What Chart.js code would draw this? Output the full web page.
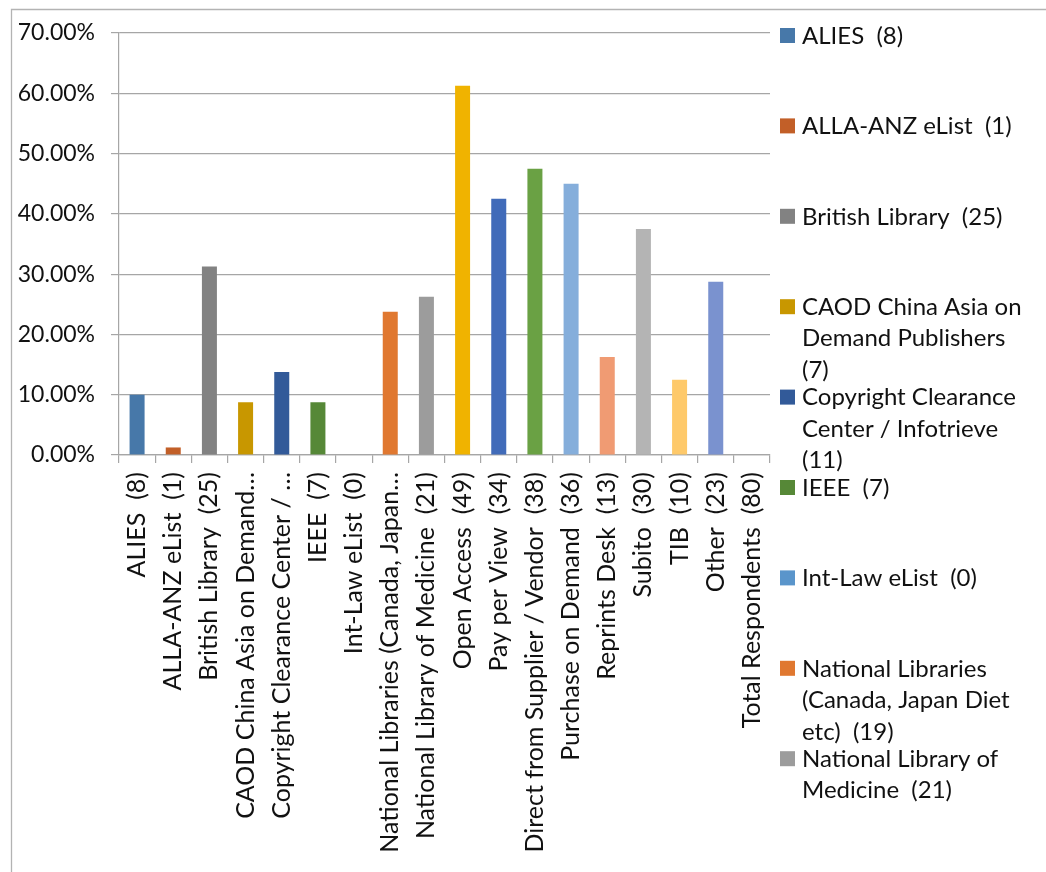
<!DOCTYPE html>
<html><head><meta charset="utf-8">
<script src="https://cdn.jsdelivr.net/npm/chart.js@4.4.1/dist/chart.umd.min.js"></script>
<style>html,body{margin:0;padding:0;background:#fff;overflow:hidden}#wrap{width:1046px;height:872px;position:relative}</style>
</head><body><div id="wrap"><canvas id="c" width="1046" height="872" style="width:1046px;height:872px"></canvas></div>
<script>
const categories = ["ALIES  (8)","ALLA-ANZ eList  (1)","British Library  (25)","CAOD China Asia on Demand Publishers  (7)","Copyright Clearance Center / Infotrieve  (11)","IEEE  (7)","Int-Law eList  (0)","National Libraries (Canada, Japan Diet etc)  (19)","National Library of Medicine  (21)","Open Access  (49)","Pay per View  (34)","Direct from Supplier / Vendor  (38)","Purchase on Demand  (36)","Reprints Desk  (13)","Subito  (30)","TIB  (10)","Other  (23)","Total Respondents  (80)"];
const tickLabels = ["ALIES  (8)","ALLA-ANZ eList  (1)","British Library  (25)","CAOD China Asia on Demand…","Copyright Clearance Center / …","IEEE  (7)","Int-Law eList  (0)","National Libraries (Canada, Japan…","National Library of Medicine  (21)","Open Access  (49)","Pay per View  (34)","Direct from Supplier / Vendor  (38)","Purchase on Demand  (36)","Reprints Desk  (13)","Subito  (30)","TIB  (10)","Other  (23)","Total Respondents  (80)"];
const percentValues = [10, 1.25, 31.25, 8.75, 13.75, 8.75, 0, 23.75, 26.25, 61.25, 42.5, 47.5, 45, 16.25, 37.5, 12.5, 28.75, null];
const barColors = ["#4778A9","#C25F28","#828282","#C89700","#325A99","#568837","#5A95CB","#E07830","#9C9C9C","#F0B300","#416BB9","#6AA144","#85AEDB","#F09B73","#B4B4B4","#FEC96A","#7A92CF","#A8CF8D"];
const yMin = 0, yMax = 70, yStep = 10;

const FONT = 'Lato';
const FS = 24;
const FSX = 25;
const FSY = 23;
const TXT = '#111';

function wrapText(ctx, text, maxW){
  const words = text.split(' ');
  const lines = [];
  let cur = '';
  for (const w of words){
    const test = cur === '' ? w : cur + ' ' + w;
    if (ctx.measureText(test.trim()).width > maxW && cur.trim() !== ''){
      lines.push(cur.trim());
      cur = w;
    } else cur = test;
  }
  if (cur.trim() !== '') lines.push(cur.trim());
  return lines;
}

const framePlugin = {
  id:'frame',
  beforeDraw(chart){
    const ctx = chart.ctx;
    ctx.save();
    ctx.fillStyle = '#fff';
    ctx.fillRect(0,0,chart.width,chart.height);
    ctx.strokeStyle = '#b3b3b3';
    ctx.lineWidth = 1.3;
    ctx.beginPath();
    ctx.moveTo(11.5, chart.height+2);
    ctx.lineTo(11.5, 9.5);
    ctx.lineTo(chart.width+2, 9.5);
    ctx.stroke();
    ctx.restore();
  }
};

const legendPlugin = {
  id:'wrapLegend',
  afterDraw(chart){
    const ctx = chart.ctx;
    const ds = chart.data.datasets[0];
    ctx.save();
    ctx.font = FS + 'px ' + FONT;
    ctx.textBaseline = 'middle';
    ctx.textAlign = 'left';
    const x0 = chart.chartArea.right + 10;
    let y = 35;
    for (let i = 0; i < chart.data.labels.length; i++){
      if (y > 800) break;
      ctx.fillStyle = ds.backgroundColor[i];
      ctx.fillRect(x0, y - 7, 15, 15);
      ctx.fillStyle = TXT;
      const lines = wrapText(ctx, chart.data.labels[i], 228);
      lines.forEach((l, j) => ctx.fillText(l, x0 + 22, y + 1 + j * 31.5));
      y += 90.4;
    }
    ctx.restore();
  }
};

new Chart(document.getElementById('c'), {
  type:'bar',
  data:{
    labels: categories,
    datasets:[{
      data: percentValues,
      backgroundColor: barColors,
      borderWidth: 0,
      categoryPercentage: 1,
      barPercentage: 0.415
    }]
  },
  options:{
    responsive:false,
    animation:false,
    devicePixelRatio:1,
    layout:{padding:{left:0, right:276, top:33, bottom:0}},
    plugins:{legend:{display:false}, tooltip:{enabled:false}},
    scales:{
      x:{
        grid:{display:true, drawOnChartArea:false, drawTicks:true, tickLength:8, color:'#a6a6a6', lineWidth:1.2, offset:true},
        border:{display:true, color:'#a6a6a6', width:1.2},
        ticks:{
          autoSkip:false, minRotation:90, maxRotation:90, padding:9,
          color:TXT, font:{family:FONT, size:FSX},
          callback:(v, i) => tickLabels[i]
        },
        afterFit(s){ s.height = 417; }
      },
      y:{
        min:yMin, max:yMax,
        grid:{color:'#a6a6a6', lineWidth:1.2, drawTicks:true, tickLength:8},
        border:{display:true, color:'#a6a6a6', width:1.2},
        ticks:{stepSize:yStep, padding:16, color:TXT, font:{family:FONT, size:FSY},
          callback:v => v.toFixed(2) + '%'},
        afterFit(s){ s.width = 119; }
      }
    }
  },
  plugins:[framePlugin, legendPlugin]
});
</script></body></html>
